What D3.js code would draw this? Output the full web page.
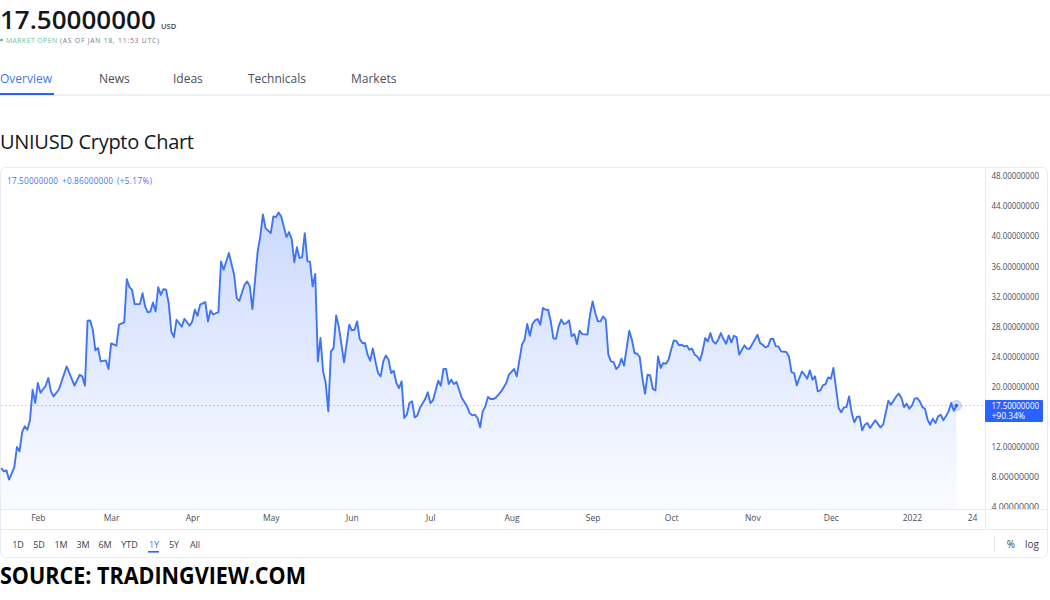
<!DOCTYPE html>
<html>
<head>
<meta charset="utf-8">
<script src="https://cdn.jsdelivr.net/npm/d3@7"></script>
<style>
html,body{margin:0;padding:0;background:#fff;overflow:hidden}
svg{display:block}
text{font-family:"Open Sans",sans-serif}
</style>
</head>
<body>
<svg id="c" width="1050" height="600"></svg>
<script>
const startDate = "2021-01-18";
const dayOffsets = [0,1,2,3,5,6,7,8,9,10,11,12,13,14,15,17,18,19,20,22,25,28,30,31,32,33,34,35,36,37,38,40,41,42,44,45,47,48,49,50,51,53,54,55,56,57,58,59,60,61,62,63,64,65,66,67,69,70,72,73,74,75,76,78,79,80,81,83,84,85,87,89,90,91,93,94,95,96,98,99,100,101,103,104,105,106,107,109,110,111,112,113,114,115,116,117,118,119,120,121,122,123,124,125,126,127,128,129,131,133,134,135,136,137,138,139,140,141,142,143,144,145,146,147,148,149,150,151,152,153,154,155,156,157,158,159,160,162,163,164,165,167,168,169,170,171,172,173,174,176,178,179,180,181,182,183,184,185,186,187,188,189,190,191,193,194,196,197,199,200,201,202,203,204,205,206,207,208,209,210,211,212,213,214,215,216,217,218,219,220,221,222,224,225,226,227,228,229,230,231,232,233,234,235,236,237,238,240,241,242,243,244,245,246,247,248,249,250,251,252,253,254,255,256,257,258,259,260,261,262,263,264,265,266,267,268,269,270,271,272,273,274,275,276,277,278,279,280,281,282,284,285,286,289,290,291,292,293,294,295,296,297,298,300,301,302,303,304,305,306,307,308,309,310,311,312,313,314,315,316,317,318,319,320,321,322,323,324,325,326,327,328,329,330,331,332,334,336,337,339,340,342,343,344,345,346,347,348,349,350,351,352,353,354,355,356,357,358,359,360,361,362,363,364,365];
const prices = [9.2,8.76,8.9,7.66,9.29,11.99,11.42,13.99,14.74,14.3,15.6,19.6,17.84,20.5,19.2,20.14,21.16,19.39,18.72,19.6,22.7,20.14,21.6,21.38,20.14,28.77,28.8,27.58,24.83,25.14,23.37,23.5,22.35,25.76,25.45,28.24,28.55,34.3,33.24,32.89,30.98,30.98,32.44,30.67,29.88,30.0,31.2,30.0,33.24,32.2,32.98,32.89,31.1,27.35,26.6,28.9,27.97,29.03,28.1,28.68,30.23,29.43,30.9,31.25,28.68,30.14,29.6,29.92,36.65,35.54,37.76,34.88,31.78,31.43,33.55,34.0,33.33,30.32,37.98,39.97,42.9,41.08,40.41,42.63,42.54,43.16,42.63,39.88,40.55,39.62,36.52,38.55,37.09,37.23,40.41,36.69,36.6,33.33,35.0,23.37,26.47,22.04,20.49,16.73,24.7,25.14,29.48,28.02,23.24,28.24,27.49,27.58,28.69,26.34,25.81,25.81,24.26,23.46,25.1,23.37,21.82,21.38,23.37,24.17,23.6,21.82,22.13,20.5,19.83,20.72,15.85,16.29,17.84,18.06,15.94,16.16,17.18,18.37,19.26,17.84,18.2,20.81,20.14,22.36,22.36,20.36,20.94,20.36,20.63,18.5,17.4,16.51,16.2,16.29,15.85,14.61,16.73,17.4,18.64,18.37,18.37,18.55,18.95,19.35,20.5,21.6,22.36,21.38,25.59,26.25,28.33,26.78,28.33,28.82,29.0,28.24,30.46,30.24,30.24,28.69,26.43,26.38,28.02,28.91,28.33,28.47,28.82,26.69,27.0,25.68,27.45,27.0,26.92,29.57,31.34,29.79,28.69,28.69,29.35,28.91,24.26,23.37,23.27,22.36,22.71,23.73,22.8,27.45,26.25,24.48,24.39,23.95,21.16,19.08,21.6,21.5,19.7,19.52,24.04,22.49,23.15,23.06,23.59,24.92,26.16,26.07,25.5,25.58,25.36,25.45,24.92,25.05,24.26,24.03,23.5,24.7,26.47,26.03,27.13,26.03,25.72,26.25,27.13,26.34,25.72,26.82,25.89,26.78,26.6,24.26,25.5,25.05,25.05,26.91,25.8,25.58,25.23,25.36,26.34,26.38,25.36,25.36,24.7,24.61,24.03,21.95,21.82,20.18,21.16,22.04,21.6,21.07,22.18,20.94,21.38,19.39,19.52,20.18,20.36,21.24,21.07,22.49,19.83,17.17,16.6,17.26,17.3,18.72,16.51,15.27,15.98,16.07,14.21,14.96,15.18,14.52,15.54,14.6,14.96,18.15,17.62,18.72,19.08,18.5,17.3,17.75,17.08,17.48,18.41,18.5,18.06,17.3,17.08,15.62,14.96,15.76,15.18,16.07,16.29,15.54,16.07,16.73,17.84,16.82,17.5];
const priceTicks = [4,8,12,20,24,28,32,36,40,44,48];
const timeTickDates = ["2021-02-01","2021-03-01","2021-04-01","2021-05-01","2021-06-01","2021-07-01","2021-08-01","2021-09-01","2021-10-01","2021-11-01","2021-12-01","2022-01-01","2022-01-24"];
const timeTickLabels = ["Feb","Mar","Apr","May","Jun","Jul","Aug","Sep","Oct","Nov","Dec","2022","24"];
const navItems = ["Overview","News","Ideas","Technicals","Markets"];
const rangeItems = ["1D","5D","1M","3M","6M","YTD","1Y","5Y","All"];
const lastPrice = 17.5;

const parse = d3.utcParse("%Y-%m-%d");
const start = parse(startDate);
const data = dayOffsets.map((d,i)=>({date:d3.utcDay.offset(start,d),price:prices[i]}));
const BLUE="#2962ff", LINE="#3f74f5", GRID="#e8ebf3";

const svg=d3.select("#c");
const x=d3.scaleUtc().domain([start,d3.utcDay.offset(start,365)]).range([1.2,956.4]);
const y=d3.scaleLinear().domain([4,48]).range([507.2,176]);

const defs=svg.append("defs");
const g=defs.append("linearGradient").attr("id","fill").attr("x1",0).attr("x2",0).attr("y1",0).attr("y2",1);
g.append("stop").attr("offset","0").attr("stop-color",BLUE).attr("stop-opacity",0.24);
g.append("stop").attr("offset","1").attr("stop-color",BLUE).attr("stop-opacity",0.02);

// header
const T=(s,px,py,size,fill,w,anchor)=>svg.append("text").attr("x",px).attr("y",py).attr("font-size",size).attr("fill",fill).attr("font-weight",w||400).attr("text-anchor",anchor||"start").text(s);
T("17.50000000",0,28.5,26,"#131722",600);
T("USD",161,28.5,7.5,"#3b3f4a",600);
svg.append("circle").attr("cx",1.5).attr("cy",40).attr("r",1.2).attr("fill","#26a69a");
T("MARKET OPEN",6,42.5,6.8,"#5fc3a8",400).attr("textLength",51);
T("(AS OF JAN 18, 11:53 UTC)",60,42.5,6.8,"#787b86",400).attr("textLength",99);

// nav
const navX=[0,99,173,248,351];
svg.selectAll(".nav").data(navItems).join("text").attr("class","nav")
 .attr("x",(d,i)=>navX[i]).attr("y",82.5).attr("font-size",12)
 .attr("fill",(d,i)=>i?"#4a4e59":"#3f74f5").text(d=>d);
svg.append("rect").attr("x",0).attr("y",94.5).attr("width",1050).attr("height",1).attr("fill","#e0e3eb");
svg.append("rect").attr("x",0).attr("y",93).attr("width",54).attr("height",2).attr("fill",BLUE);

T("UNIUSD Crypto Chart",0,149,20,"#131722",400).attr("textLength",194);

// chart frame
svg.append("rect").attr("x",0.5).attr("y",167.5).attr("width",1047).attr("height",390).attr("rx",5).attr("fill","#fff").attr("stroke",GRID);

// area + line
const area=d3.area().x(d=>x(d.date)).y0(509).y1(d=>y(d.price));
const line=d3.line().x(d=>x(d.date)).y(d=>y(d.price));
svg.append("path").datum(data).attr("d",area).attr("fill","url(#fill)");

// last price dashed line
svg.append("line").attr("x1",1).attr("x2",985).attr("y1",y(lastPrice)).attr("y2",y(lastPrice)).attr("stroke",BLUE).attr("stroke-opacity",0.3).attr("stroke-dasharray","2 2");
svg.append("path").datum(data).attr("d",line).attr("fill","none").attr("stroke",LINE).attr("stroke-width",1.9).attr("stroke-linejoin","round");
const last=data[data.length-1];
svg.append("circle").attr("cx",x(last.date)).attr("cy",y(last.price)).attr("r",5).attr("fill",BLUE).attr("fill-opacity",0.2).attr("stroke",BLUE).attr("stroke-opacity",0.25);
svg.append("circle").attr("cx",x(last.date)).attr("cy",y(last.price)).attr("r",1.8).attr("fill",BLUE);

// y axis
const yAxis=d3.axisRight(y).tickValues(priceTicks).tickSize(0).tickPadding(0).tickFormat(d3.format(".8f"));
const ya=svg.append("g").attr("transform","translate(991.5,0)").call(yAxis);
ya.select(".domain").remove();
ya.selectAll("text").attr("font-size",8.5).attr("fill","#4a4e59").attr("font-family","Open Sans,sans-serif").attr("textLength",47.5).attr("lengthAdjust","spacingAndGlyphs");

// x axis band covers clipped lowest label
svg.append("rect").attr("x",986).attr("y",509).attr("width",60).attr("height",20).attr("fill","#fff");
svg.append("line").attr("x1",1).attr("x2",1047).attr("y1",509.5).attr("y2",509.5).attr("stroke",GRID);
svg.append("line").attr("x1",1).attr("x2",1047).attr("y1",529.5).attr("y2",529.5).attr("stroke",GRID);
svg.append("line").attr("x1",985.5).attr("x2",985.5).attr("y1",168).attr("y2",529).attr("stroke",GRID);

const xAxis=d3.axisBottom(x).tickValues(timeTickDates.map(parse)).tickSize(0).tickPadding(0).tickFormat((d,i)=>timeTickLabels[i]);
const xa=svg.append("g").attr("transform","translate(0,515)").call(xAxis);
xa.select(".domain").remove();
xa.selectAll("text").attr("font-size",8.5).attr("fill","#4a4e59").attr("font-family","Open Sans,sans-serif");

// price tag
svg.append("rect").attr("x",985).attr("y",400).attr("width",58).attr("height",22).attr("rx",1).attr("fill",BLUE);
T(d3.format(".8f")(lastPrice),991.5,409,8.5,"#fff",400).attr("textLength",47.5).attr("lengthAdjust","spacingAndGlyphs");
T("+90.34%",991.5,418.5,8.5,"#fff",400);

// legend
T("17.50000000",7,184,8.2,"#3f74f5").attr("textLength",51);
T("+0.86000000",62,184,8.2,"#3f74f5").attr("textLength",51);
T("(+5.17%)",117,184,8.2,"#3f74f5").attr("textLength",35);

// range bar
const rangeX=[18,39,61,83,105,129.5,154,174,195];
svg.selectAll(".rg").data(rangeItems).join("text").attr("class","rg")
 .attr("x",(d,i)=>rangeX[i]).attr("y",547.5).attr("text-anchor","middle").attr("font-size",9)
 .attr("fill",d=>d==="1Y"?"#3f74f5":"#3b3f4a").text(d=>d);
svg.append("rect").attr("x",148).attr("y",551).attr("width",11).attr("height",1.6).attr("fill",BLUE);
svg.append("line").attr("x1",994.5).attr("x2",994.5).attr("y1",536).attr("y2",552).attr("stroke",GRID);
T("%",1011,548,10,"#3b3f4a",400,"middle");
T("log",1032,548,10,"#3b3f4a",400,"middle");

T("SOURCE: TRADINGVIEW.COM",0,584,22.5,"#000",700).attr("textLength",306).attr("lengthAdjust","spacingAndGlyphs");
</script>
</body>
</html>
